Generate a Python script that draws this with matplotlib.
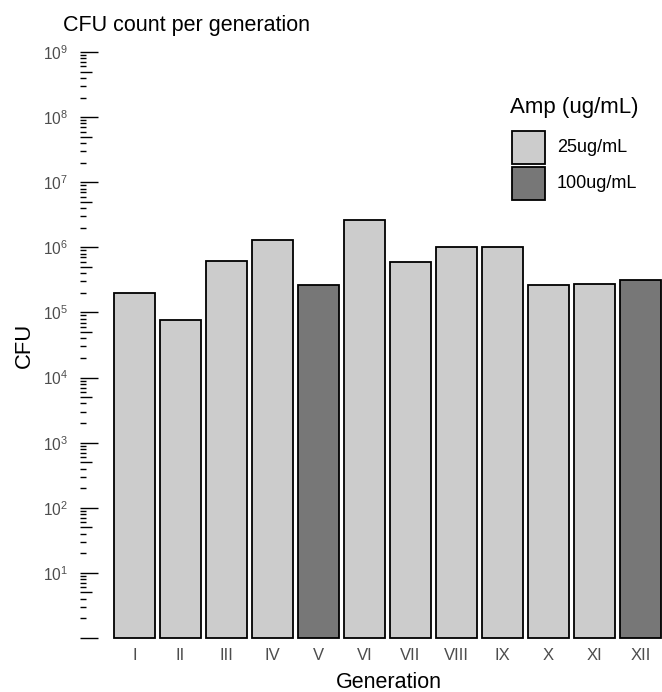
import numpy as np
import matplotlib
matplotlib.use('Agg')
import matplotlib.pyplot as plt
from matplotlib.patches import Rectangle
import matplotlib.transforms as mtransforms

plt.rcParams['font.family'] = ['Liberation Sans', 'DejaVu Sans']
plt.rcParams['mathtext.fontset'] = 'custom'
plt.rcParams['mathtext.rm'] = 'Liberation Sans'
plt.rcParams['mathtext.it'] = 'Liberation Sans:italic'
plt.rcParams['mathtext.default'] = 'regular'

generations = ['I', 'II', 'III', 'IV', 'V', 'VI', 'VII', 'VIII', 'IX', 'X', 'XI', 'XII']
cfu = [2.0e5, 7.6e4, 6.1e5, 1.3e6, 2.6e5, 2.6e6, 6.0e5, 1.0e6, 1.0e6, 2.65e5, 2.75e5, 3.1e5]
amp = ['25ug/mL', '25ug/mL', '25ug/mL', '25ug/mL', '100ug/mL', '25ug/mL',
       '25ug/mL', '25ug/mL', '25ug/mL', '25ug/mL', '25ug/mL', '100ug/mL']
amp_levels = ['25ug/mL', '100ug/mL']
amp_colors = {'25ug/mL': '#cccccc', '100ug/mL': '#777777'}

W, H = 662, 692
fig = plt.figure(figsize=(W / 100, H / 100), dpi=100)
# panel in pixels: left 107, right 668 (runs slightly off the image), top 52, bottom 638
PL, PR, PT, PB = 107, 668, 52, 638
ax = fig.add_axes([PL / W, (H - PB) / H, (PR - PL) / W, (PB - PT) / H])

x = np.arange(len(generations))
cols = [amp_colors[a] for a in amp]
ax.bar(x, np.array(cfu) - 1, bottom=1, width=0.9, color=cols,
       edgecolor='black', linewidth=1.3, clip_on=False, zorder=3)

ax.set_yscale('log')
ax.set_ylim(1, 1e9)
ax.set_xlim(-0.6, 11.6)

for s in ax.spines.values():
    s.set_visible(False)

# log ticks drawn outside the panel: long at decades, mid at 5x, short otherwise
px = 1 / (PR - PL)
x0 = (80 - PL) * px
trans = mtransforms.blended_transform_factory(ax.transAxes, ax.transData)
ticks = [(m * 10.0 ** k, 18 if m == 1 else (12 if m == 5 else 6))
         for k in range(0, 9) for m in range(1, 10)] + [(1e9, 18)]
for v, L in ticks:
    ax.plot([x0, x0 + L * px], [v, v], color='black', lw=1.0, transform=trans,
            clip_on=False, solid_capstyle='butt')

decades = np.arange(1, 10)
ax.set_yticks([10.0 ** d for d in decades])
ax.set_yticklabels(['$10^{%d}$' % d for d in decades])
ax.yaxis.set_minor_locator(matplotlib.ticker.NullLocator())
ax.tick_params(axis='y', length=0, pad=28, labelsize=11.2, labelcolor='#4d4d4d')

ax.set_xticks(x)
ax.set_xticklabels(generations)
ax.tick_params(axis='x', length=0, pad=7, labelsize=12, labelcolor='#4d4d4d')

fig.text(389 / W, 1 - 682 / H, 'Generation', fontsize=15.5, ha='center', va='center')
fig.text(24 / W, 1 - 345 / H, 'CFU', fontsize=15.8, ha='center', va='center', rotation=90)
fig.text(63 / W, 1 - 25 / H, 'CFU count per generation', fontsize=15.5,
         ha='left', va='center')

# legend
fig.text(510 / W, 1 - 108 / H, 'Amp (ug/mL)', fontsize=16, ha='left', va='center')
key_tops = [131, 167]
for lvl, top in zip(amp_levels, key_tops):
    fig.add_artist(Rectangle((512 / W, 1 - (top + 33) / H), 33 / W, 33 / H,
                             transform=fig.transFigure, facecolor=amp_colors[lvl],
                             edgecolor='black', linewidth=1.3))
    fig.text(557 / W, 1 - (top + 16.5) / H, lvl, fontsize=13, ha='left', va='center')

fig.savefig('out.png', dpi=100, facecolor='white')
